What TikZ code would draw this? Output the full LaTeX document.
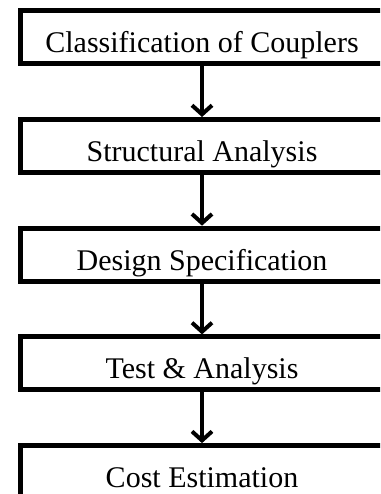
\documentclass[tikz,border=0pt]{standalone}
\usepackage{fontspec}
\setmainfont{Liberation Serif}
\usetikzlibrary{arrows.meta}
\begin{document}
\begin{tikzpicture}[x=1pt,y=-1pt]
          \useasboundingbox (0,0) rectangle (380,494);
          \clip (0,0) rectangle (380,494);
          \begin{scope}[every node/.style={draw, line width=5pt, minimum width=364pt, minimum height=53pt, inner sep=0pt, text height=36pt, text depth=5pt, font=\fontsize{30}{36}\selectfont}]
          \node (v1) at (202,37.3) {Classification of Couplers};
          \node (v2) at (202,146) {Structural Analysis};
          \node (v3) at (202,254.7) {Design Specification};
          \node (v4) at (202,363.4) {Test \& Analysis};
          \node (v5) at (202,472.1) {Cost Estimation};
          \end{scope}
          
          \draw [line width=4pt, -{Straight Barb[length=9pt,width=20pt]}] (v1) edge (v2);
          \draw [line width=4pt, -{Straight Barb[length=9pt,width=20pt]}] (v2) edge (v3);
          \draw [line width=4pt, -{Straight Barb[length=9pt,width=20pt]}] (v3) edge (v4);
          \draw [line width=4pt, -{Straight Barb[length=9pt,width=20pt]}] (v4) edge (v5);
          
          \end{tikzpicture}
\end{document}
